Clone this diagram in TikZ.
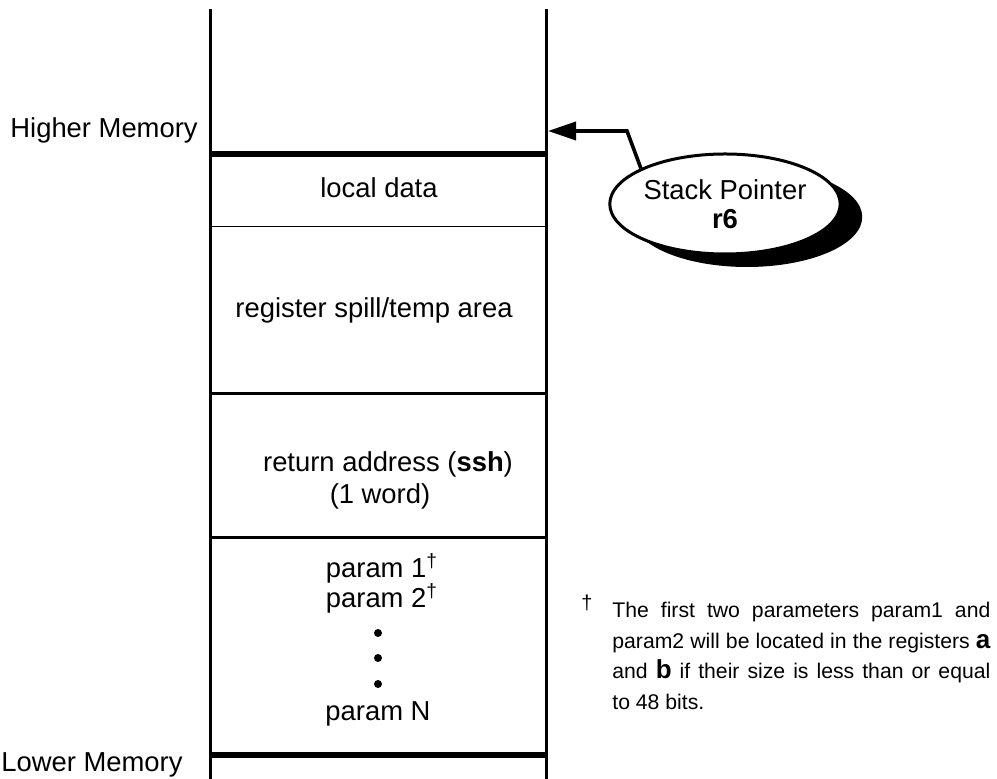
\documentclass[tikz,border=0pt]{standalone}
\usepackage{fontspec}
\setmainfont{Liberation Sans}
\usetikzlibrary{shapes, positioning, arrows.meta, shadows}

\begin{document}
\begin{tikzpicture}[
    x = 0.5pt, y = -0.5pt,
    font = \fontsize{13.7}{16}\selectfont,
    wall/.style = {
      line width = 1.5pt
    },
    frame/.style = {
      line width = 2.6pt
    },
    divider/.style = {
      line width = 1.5pt
    },
    faint/.style = {
      line width = 0.5pt
    },
    cell/.style = {
      anchor = base, inner sep = 0pt
    },
    side/.style = {
      anchor = base west, inner sep = 0pt
    },
    dot/.style = {
      circle, fill, inner sep = 0pt, minimum size = 4pt
    },
    pointer/.style = {
      line width = 1.8pt, arrows = {-Triangle[length = 14pt, width = 9pt]}
    },
    register/.style = {
      ellipse, draw, line width = 1.5pt, fill = white, inner sep = 0pt,
      minimum width = 111pt, minimum height = 50pt, align = center,
      font = \fontsize{13.7}{14.5}\selectfont,
      drop shadow = {shadow xshift = 11pt, shadow yshift = -6.5pt,
        opacity = 1, fill = black}
    },
    note/.style = {
      anchor = north west, inner sep = 0pt, align = left,
      font = \fontsize{10.6}{15.25}\selectfont
    },
    ]
\useasboundingbox (0,0) rectangle (997,779);

% stack walls
\coordinate  (wall_nw)  at  (210,9);
\coordinate  (wall_sw)  at  (210,779);
\coordinate  (wall_ne)  at  (546,9);
\coordinate  (wall_se)  at  (546,779);
\draw  [wall]  (wall_nw)  --  (wall_sw);
\draw  [wall]  (wall_ne)  --  (wall_se);

% frame boundaries
\draw  [frame]  (210,154)  --  (546,154);
\draw  [faint]  (210,227)  --  (546,227);
\draw  [divider]  (210,394)  --  (546,394);
\draw  [divider]  (210,538)  --  (546,538);
\draw  [frame]  (210,755)  --  (546,755);

\node  [side]  (higher)  at  (10,138)  {Higher Memory};
\node  [side]  (lower)  at  (1,772)  {Lower Memory};

\node  [cell]  (local)  at  (379,198)  {local data};
\node  [cell]  (spill)  at  (374,318)  {register spill/temp area};
\node  [cell]  (ret)  at  (388,472)  {return address (\textbf{ssh})};
\node  [cell]  (word)  at  (380,504)  {(1 word)};
\node  [cell]  (param1)  at  (382,578)  {param 1\textsuperscript{\dag}};
\node  [cell]  (param2)  at  (382,608)  {param 2\textsuperscript{\dag}};
\foreach \y [count = \i] in {633,658,684}
  \node  [dot]  (dot\i)  at  (378,\y)  {};
\node  [cell]  (paramN)  at  (378,721)  {param N};

% stack pointer
\node  [register]  (sp)  at  (725,204)  {Stack Pointer\\\textbf{r6}};
\coordinate  (sp_tip)  at  (548,131);
\node  [coordinate]  (bend)  [right = 39.5pt of sp_tip]  {};
\draw  [pointer]  (sp.157)  --  (bend)  --  (sp_tip);

% footnote
\node  [side, font = \fontsize{10}{11}\selectfont]  (dag)  at  (581,610)  {\dag};
\node  [note]  (fn)  at  (612,602)  {%
  \makebox[189pt][s]{The first two parameters param1 and}\\
  \makebox[189pt][s]{param2 will be located in the registers {\fontsize{13}{15}\selectfont\bfseries a}}\\
  \makebox[189pt][s]{and {\fontsize{13}{15}\selectfont\bfseries b} if their size is less than or equal}\\
  to 48 bits.};
\end{tikzpicture}
\end{document}
